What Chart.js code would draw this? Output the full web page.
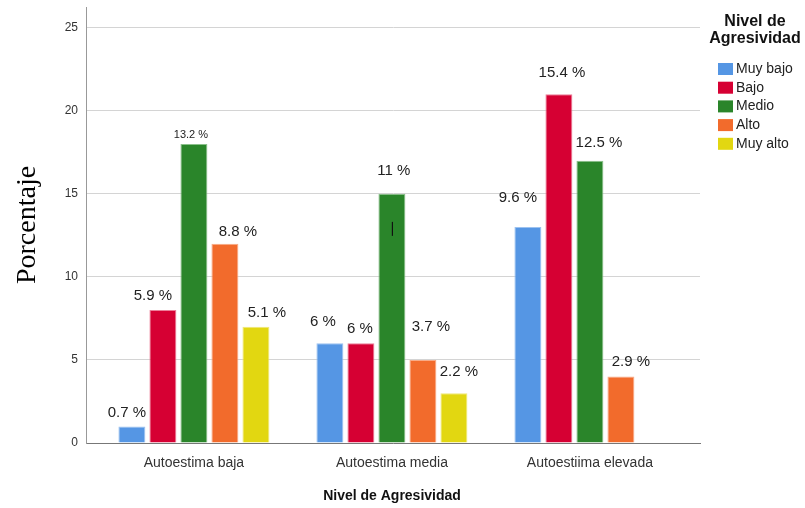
<!DOCTYPE html>
<html>
<head>
<meta charset="utf-8">
<script src="https://cdn.jsdelivr.net/npm/chart.js@4"></script>
<style>
  html, body { margin: 0; padding: 0; background: #fff; }
  #wrap { width: 805px; height: 508px; }
</style>
</head>
<body>
<div id="wrap"><canvas id="c" width="805" height="508"></canvas></div>
<script>
// ---- data ----
const categories = ["Autoestima baja", "Autoestima media", "Autoestiima elevada"];
const seriesNames = ["Muy bajo", "Bajo", "Medio", "Alto", "Muy alto"];
const muyBajo = [1, 6, 13];
const bajo    = [8, 6, 21];
const medio   = [18, 15, 17];
const alto    = [12, 5, 4];
const muyAlto = [7, 3, null];
const labelsMuyBajo = ["0.7 %", "6 %", "9.6 %"];
const labelsBajo    = ["5.9 %", "6 %", "15.4 %"];
const labelsMedio   = ["13.2 %", "11 %", "12.5 %"];
const labelsAlto    = ["8.8 %", "3.7 %", "2.9 %"];
const labelsMuyAlto = ["5.1 %", "2.2 %", null];
const yTicks = [0, 5, 10, 15, 20, 25];

const colors = ["#5596E4", "#D60033", "#2A852A", "#F26B2C", "#E2D711"];
const borders = ["#9cc2f0", "#ec7f99", "#8ac08a", "#f8ab87", "#efe877"];
// label nudges [dx, dy above bar top] per series, per category
const labelNudge = [
  [[-5,14],[-7,21],[-10,29]],
  [[-10,14],[-1,14],[3,21]],
  [[-3,9],[2,23],[9,18]],
  [[13,12],[8,33],[10,15]],
  [[11,14],[5,21],[0,0]]
];

const values = [muyBajo, bajo, medio, alto, muyAlto];
const labelSets = [labelsMuyBajo, labelsBajo, labelsMedio, labelsAlto, labelsMuyAlto];

const FONT = "'Liberation Sans', Arial, sans-serif";

const customDraw = {
  id: 'customDraw',
  afterDatasetsDraw(chart) {
    const ctx = chart.ctx;
    ctx.save();
    chart.data.datasets.forEach((ds, i) => {
      const meta = chart.getDatasetMeta(i);
      meta.data.forEach((bar, j) => {
        const txt = labelSets[i][j];
        if (txt == null || values[i][j] == null) return;
        const n = labelNudge[i][j];
        ctx.font = (txt === "13.2 %") ? "11px " + FONT : "15px " + FONT;
        ctx.fillStyle = "#222";
        ctx.textAlign = "center";
        ctx.textBaseline = "middle";
        ctx.fillText(txt, bar.x + n[0], bar.y - n[1]);
      });
    });
    // stray cursor mark inside the 'Medio' bar of Autoestima media
    const g = chart.getDatasetMeta(2).data[1];
    ctx.strokeStyle = "#111";
    ctx.lineWidth = 1.2;
    ctx.beginPath();
    ctx.moveTo(g.x + 0.5, g.y + 28);
    ctx.lineTo(g.x + 0.5, g.y + 42);
    ctx.stroke();
    ctx.restore();
  },
  afterDraw(chart) {
    const ctx = chart.ctx;
    ctx.save();
    ctx.fillStyle = "#000";
    ctx.font = "28px 'Liberation Serif', 'Times New Roman', serif";
    ctx.textAlign = "center";
    ctx.textBaseline = "middle";
    ctx.translate(28, 225);
    ctx.rotate(-Math.PI / 2);
    ctx.fillText("Porcentaje", 0, 0);
    ctx.restore();
    ctx.save();
    ctx.fillStyle = "#111";
    ctx.font = "bold 14px " + FONT;
    ctx.textAlign = "center";
    ctx.textBaseline = "middle";
    ctx.fillText("Nivel de Agresividad", 392, 496);
    ctx.font = "bold 16px " + FONT;
    ctx.fillText("Nivel de", 755, 22);
    ctx.fillText("Agresividad", 755, 39);
    ctx.textAlign = "left";
    ctx.font = "14px " + FONT;
    chart.data.datasets.forEach((ds, i) => {
      const y = 69 + i * 18.7;
      ctx.fillStyle = ds.backgroundColor;
      ctx.fillRect(718, y - 6, 15, 12);
      ctx.fillStyle = "#222";
      ctx.fillText(ds.label, 736, y);
    });
    ctx.restore();
  }
};

new Chart(document.getElementById('c'), {
  type: 'bar',
  data: {
    labels: categories,
    datasets: seriesNames.map((name, i) => ({
      label: name,
      data: values[i].map((v, j) => ({ x: j, y: v })),
      backgroundColor: colors[i],
      borderColor: borders[i],
      borderWidth: 1,
      categoryPercentage: 0.783,
      barPercentage: 0.87
    }))
  },
  options: {
    responsive: false,
    animation: false,
    devicePixelRatio: 1,
    layout: { padding: { top: 7, right: 105, left: 0, bottom: 0 } },
    plugins: { legend: { display: false }, tooltip: { enabled: false }, title: { display: false } },
    scales: {
      x: {
        type: 'linear',
        offset: false,
        min: -0.545, max: 2.556,
        afterBuildTicks(scale) { scale.ticks = categories.map((c, j) => ({ value: j })); },
        grid: { display: false, drawTicks: false },
        border: { color: "#777", width: 1 },
        ticks: {
          color: "#333", font: { family: FONT, size: 14 }, padding: 12,
          callback: (v) => categories[v]
        },
        afterFit(scale) { scale.height = 65; scale.paddingLeft = 0; scale.paddingRight = 0; }
      },
      y: {
        min: 0, max: 26.25,
        afterBuildTicks(scale) { scale.ticks = yTicks.map(v => ({ value: v })); },
        grid: { color: "#d4d4d4", drawTicks: false, lineWidth: 1 },
        border: { color: "#999", width: 1 },
        ticks: { color: "#333", font: { family: FONT, size: 12 }, padding: 8 },
        afterFit(scale) { scale.width = 86; scale.paddingTop = 0; scale.paddingBottom = 0; }
      }
    }
  },
  plugins: [customDraw]
});
</script>
</body>
</html>
